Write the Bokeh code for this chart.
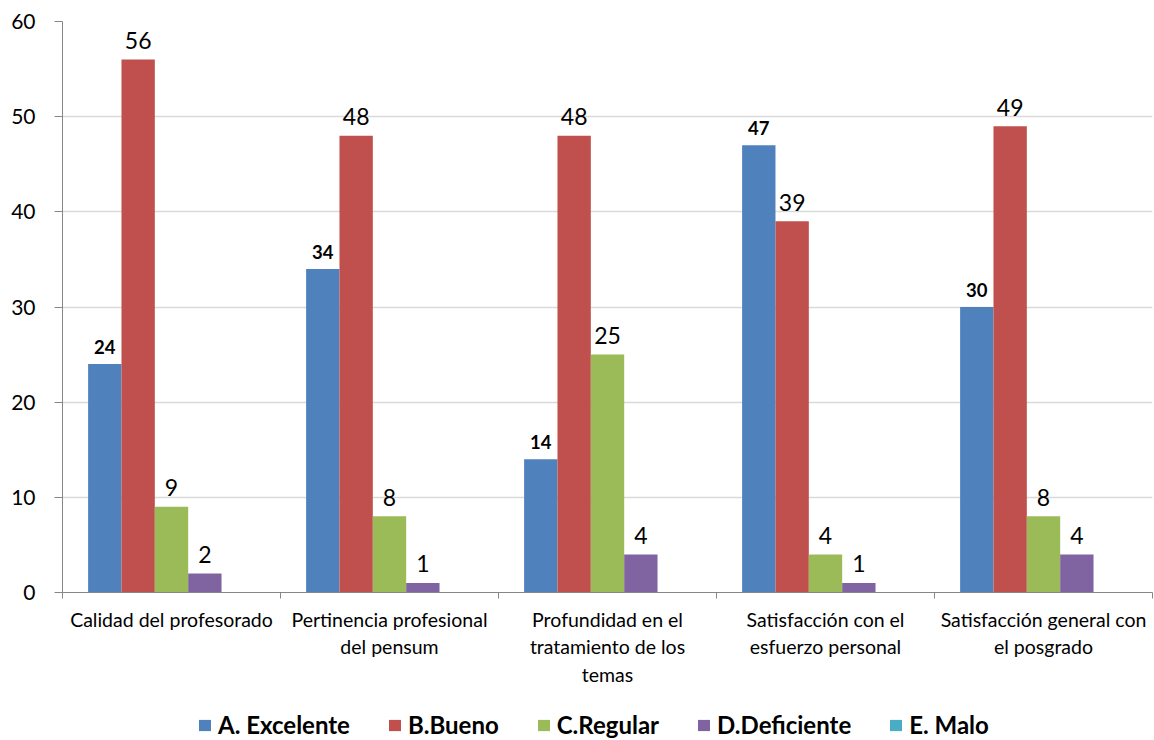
import numpy as np
from bokeh.plotting import figure
from bokeh.layouts import column
from bokeh.models import Range1d, FixedTicker, Legend, LegendItem, ColumnDataSource
from bokeh.core.properties import value
from bokeh.embed import file_html
from bokeh.resources import INLINE

# ---- data ----
categories = [
    "Calidad del profesorado",
    "Pertinencia profesional\ndel pensum",
    "Profundidad en el\ntratamiento de los\ntemas",
    "Satisfacción con el\nesfuerzo personal",
    "Satisfacción general con\nel posgrado",
]
series = ["A. Excelente", "B.Bueno", "C.Regular", "D.Deficiente", "E. Malo"]
excelente = [24, 34, 14, 47, 30]
bueno = [56, 48, 48, 39, 49]
regular = [9, 8, 25, 4, 8]
deficiente = [2, 1, 4, 1, 4]
malo = [None, None, None, None, None]
y_ticks = [0, 10, 20, 30, 40, 50, 60]

colors = ["#4F81BD", "#C0504D", "#9BBB59", "#8064A2", "#4BACC6"]
FONT = "Lato"

values = [excelente, bueno, regular, deficiente, malo]
n_cat = len(categories)
bar_w = 0.153
centers = np.arange(n_cat) + 0.5

p = figure(width=1154, height=700, output_backend="svg", toolbar_location=None,
           x_range=Range1d(0, n_cat), y_range=Range1d(0, 60),
           min_border_left=62, min_border_right=2, min_border_top=21,
           min_border_bottom=108)
p.outline_line_color = None
p.background_fill_color = "white"
p.border_fill_color = "white"

for j, (name, vals, col) in enumerate(zip(series, values, colors)):
    tops = np.array([np.nan if v is None else v for v in vals], dtype=float)
    xs = centers + (j - 2) * bar_w
    src = ColumnDataSource(dict(x=xs, top=tops,
                                lab=["" if v is None else str(v) for v in vals]))
    p.vbar(x="x", top="top", bottom=0, width=bar_w, source=src,
           fill_color=col, line_color=None)
    if j == 0:
        p.text(x="x", y="top", text="lab", source=src, text_align="center",
               text_baseline="alphabetic", y_offset=-17,
               text_font=value(FONT), text_font_style="bold",
               text_font_size="18.5px", text_color="black")
    elif j < 4:
        p.text(x="x", y="top", text="lab", source=src, text_align="center",
               text_baseline="alphabetic", y_offset=-19,
               text_font=value(FONT), text_font_size="23px", text_color="black")

# axes
ax = p.xaxis[0]
ax.ticker = FixedTicker(ticks=list(centers), minor_ticks=list(range(n_cat + 1)))
ax.major_label_overrides = {float(c): lab for c, lab in zip(centers, categories)}
ax.major_tick_out = 0
ax.major_tick_in = 0
ax.minor_tick_out = 6
ax.minor_tick_in = 0
ax.minor_tick_line_color = "#868686"
ax.axis_line_color = "#868686"
ax.major_label_text_font = FONT
ax.major_label_text_font_size = "19.5px"
ax.major_label_text_color = "black"
ax.major_label_standoff = 9

ay = p.yaxis[0]
ay.ticker = FixedTicker(ticks=y_ticks)
ay.major_tick_out = 8
ay.major_tick_in = 0
ay.minor_tick_out = 0
ay.minor_tick_in = 0
ay.major_tick_line_color = "#868686"
ay.axis_line_color = "#868686"
ay.major_label_text_font = FONT
ay.major_label_text_font_size = "21px"
ay.major_label_text_color = "black"
ay.major_label_standoff = 19

p.xgrid.visible = False
p.ygrid.grid_line_color = "#d9d9d9"
p.ygrid.grid_line_width = 1.5

# ---- legend strip ----
lg = figure(width=1154, height=40, output_backend="svg", toolbar_location=None,
            x_range=Range1d(0, 1), y_range=Range1d(0, 1),
            min_border_left=0, min_border_right=0, min_border_top=0,
            min_border_bottom=0, x_axis_type=None, y_axis_type=None)
lg.outline_line_color = None
lg.xgrid.visible = False
lg.ygrid.visible = False
items = []
for name, col in zip(series, colors):
    # zero-height proxy bar: only its swatch is shown in the legend
    r = lg.vbar(x=[0.5], top=[0], bottom=[0], width=0.1,
                fill_color=col, line_color=None)
    items.append(LegendItem(label=name, renderers=[r]))
legend = Legend(items=items, orientation="horizontal", location=(135, 1),
                label_text_font=FONT, label_text_font_style="bold",
                label_text_font_size="24px", label_text_color="black",
                glyph_width=15, glyph_height=14, label_standoff=6, spacing=37,
                padding=0, margin=0,
                border_line_color=None, background_fill_alpha=0)
lg.add_layout(legend, "center")

layout = column(p, lg, spacing=0)
open("out.html", "w").write(file_html(layout, INLINE))
